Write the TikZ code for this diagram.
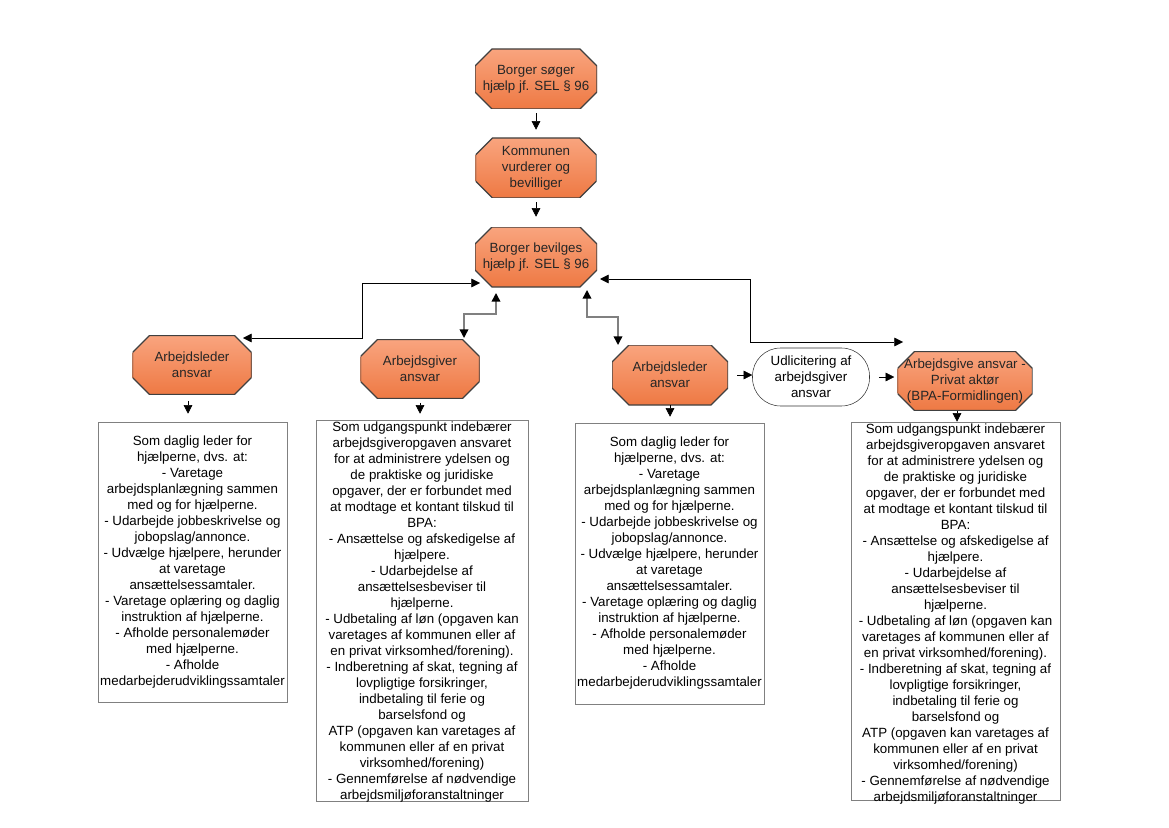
\documentclass[tikz,border=0pt]{standalone}
\usepackage{fontspec}
\setmainfont{Liberation Sans}
\usetikzlibrary{arrows.meta,calc}
\definecolor{octtop}{HTML}{F9A47E}
\definecolor{octbot}{HTML}{EE7943}
\definecolor{linegray}{HTML}{808080}
\newcommand{\ledertekst}{Som daglig leder for\\hjælperne, dvs. at:\\- Varetage\\arbejdsplanlægning sammen\\med og for hjælperne.\\- Udarbejde jobbeskrivelse og\\jobopslag/annonce.\\- Udvælge hjælpere, herunder\\at varetage\\ansættelsessamtaler.\\- Varetage oplæring og daglig\\instruktion af hjælperne.\\- Afholde personalemøder\\med hjælperne.\\- Afholde\\medarbejderudviklingssamtaler}
\newcommand{\givertekst}{Som udgangspunkt indebærer\\arbejdsgiveropgaven ansvaret\\for at administrere ydelsen og\\de praktiske og juridiske\\opgaver, der er forbundet med\\at modtage et kontant tilskud til\\BPA:\\- Ansættelse og afskedigelse af\\hjælpere.\\- Udarbejdelse af\\ansættelsesbeviser til\\hjælperne.\\- Udbetaling af løn (opgaven kan\\varetages af kommunen eller af\\en privat virksomhed/forening).\\- Indberetning af skat, tegning af\\lovpligtige forsikringer,\\indbetaling til ferie og\\barselsfond og\\ATP (opgaven kan varetages af\\kommunen eller af en privat\\virksomhed/forening)\\- Gennemførelse af nødvendige\\arbejdsmiljøforanstaltninger}

\begin{document}
\begin{tikzpicture}[x=0.75pt,y=-0.75pt,
		font=\fontsize{10}{12}\selectfont,
		oct/.style={rectangle,align=center,inner sep=0pt,text=black!85,
			path picture={\draw[draw=black!75,line width=1pt,top color=octtop,bottom color=octbot]
				([xshift=12.75pt]path picture bounding box.north west) -- ([xshift=-12.75pt]path picture bounding box.north east)
				-- ([yshift=-12.75pt]path picture bounding box.north east) -- ([yshift=12.75pt]path picture bounding box.south east)
				-- ([xshift=-12.75pt]path picture bounding box.south east) -- ([xshift=12.75pt]path picture bounding box.south west)
				-- ([yshift=12.75pt]path picture bounding box.south west) -- ([yshift=-12.75pt]path picture bounding box.north west) -- cycle;}},
		txtbox/.style={draw=linegray,align=center,inner sep=0pt},
		arr/.style={-{Triangle[length=6.5pt,width=6.5pt]}},
		dbl/.style={{Triangle[length=6.5pt,width=6.5pt]}-{Triangle[length=6.5pt,width=6.5pt]}},
		dblgray/.style={{Triangle[length=6.5pt,width=6.5pt,color=black]}-{Triangle[length=6.5pt,width=6.5pt,color=black]},draw=linegray,line width=1.1pt}]
			\useasboundingbox (0,0) rectangle (1169,827);

			% octagons
			\node[oct,minimum width=91.5pt,minimum height=45pt] (o1) at (536,79) {Borger søger\\hjælp jf. SEL § 96};
			\node[oct,minimum width=90.75pt,minimum height=45pt] (o2) at (536,168) {Kommunen\\vurderer og\\bevilliger};
			\node[oct,minimum width=91.5pt,minimum height=45pt] (o3) at (536,257) {Borger bevilges\\hjælp jf. SEL § 96};
			\node[oct,minimum width=89.25pt,minimum height=44.25pt] (al1) at (192,365) {Arbejdsleder\\ansvar};
			\node[oct,minimum width=89.25pt,minimum height=44.25pt] (ag) at (420,369) {Arbejdsgiver\\ansvar};
			\node[oct,minimum width=87pt,minimum height=45pt] (al2) at (670,375) {Arbejdsleder\\ansvar};
			\node[draw=black!80,rounded corners=21pt,align=center,inner sep=0pt,minimum width=87.75pt,minimum height=43.5pt] (ud) at (811,377) {Udlicitering af\\arbejdsgiver\\ansvar};
			\node[oct,minimum width=101.25pt,minimum height=44.25pt] (pa) at (965,381) {Arbejdsgive ansvar -\\Privat aktør\\(BPA-Formidlingen)};

			% text boxes
			\node[txtbox,minimum width=141.75pt,minimum height=210pt] (b1) at (192.5,562) {\ledertekst};
			\node[txtbox,minimum width=159pt,minimum height=285.75pt] (b2) at (422,610.5) {};
			\node[anchor=north,align=center,inner sep=0pt] (t2) at ([yshift=-1.5pt]b2.north) {\givertekst};
			\node[txtbox,minimum width=141.75pt,minimum height=210.75pt] (b3) at (669.5,563.5) {\ledertekst};
			\node[txtbox,minimum width=156.75pt,minimum height=283.5pt] (b4) at (955.5,611) {};
			\node[anchor=north,align=center,inner sep=0pt] (t4) at ([yshift=-1.5pt]b4.north) {\givertekst};

			% arrows
			\draw[arr,shorten <=3pt,shorten >=6pt] (o1) -- (o2);
			\draw[arr,shorten <=3pt,shorten >=7.5pt] (o2) -- (o3);
			\draw[arr,shorten <=4.5pt,shorten >=6pt] ([xshift=-3pt]al1.south) -- ([xshift=-3pt]al1.south |- b1.north);
			\draw[arr,shorten <=3pt,shorten >=4.5pt] (ag.south) -- (ag.south |- b2.north);
			\draw[arr,shorten >=4.5pt] (al2.south) -- (al2.south |- b3.north);
			\draw[arr] ([xshift=-6pt]pa.south) -- ([xshift=-6pt]pa.south |- b4.north);
			\draw[arr,shorten <=6.75pt] (al2.east) -- (al2.east -| ud.west);
			\draw[arr,shorten <=6.75pt,shorten >=2.25pt] (ud.east) -- (ud.east -| pa.west);

			\draw[dbl] ($(al1)+(51,-27)$) -- ++(119,0) |- ($(o3)+(-56,26)$);
			\draw[dblgray] ($(o3)+(-40,36)$) -- ++(0,21) -| ($(ag)+(44,-31)$);
			\draw[dblgray] ($(o3)+(51,33)$) -- ++(0,27) -| ($(al2)+(-52,-30)$);
			\draw[dbl] ($(o3)+(64,22)$) -- ++(150,0) |- ($(pa)+(-62,-39)$);
\end{tikzpicture}
\end{document}
